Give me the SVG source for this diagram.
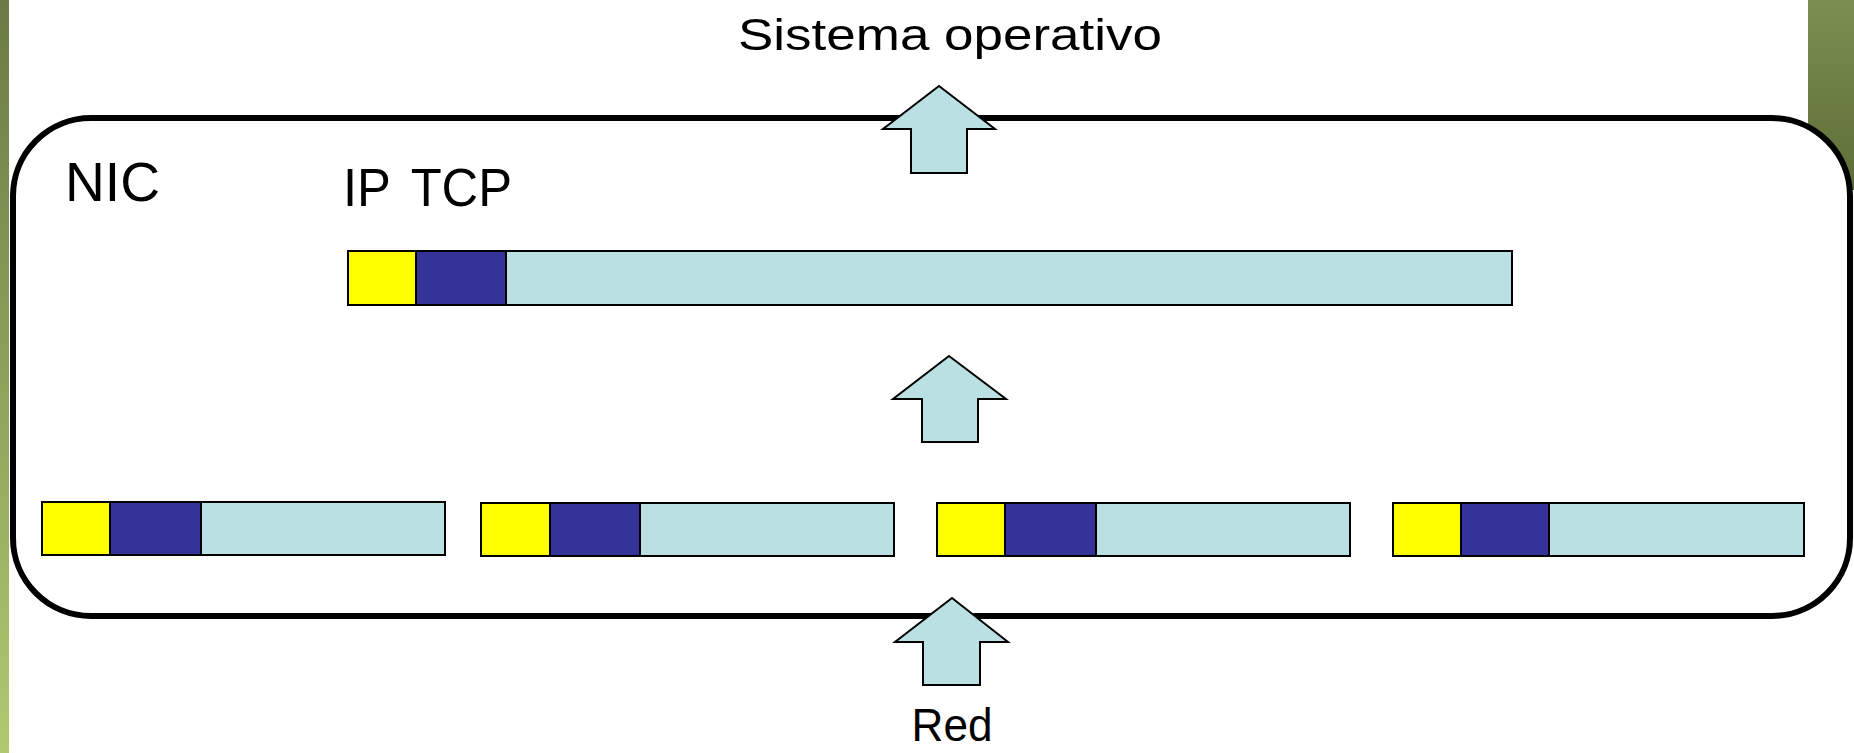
<svg xmlns="http://www.w3.org/2000/svg" width="1854" height="753" viewBox="0 0 1854 753">
  <defs>
    <linearGradient id="barLeft" x1="0" y1="0" x2="0" y2="1">
      <stop offset="0" stop-color="#6b7a45"/>
      <stop offset="1" stop-color="#b0c970"/>
    </linearGradient>
    <linearGradient id="barRight" x1="0" y1="0" x2="0" y2="1">
      <stop offset="0" stop-color="#7d8e52"/>
      <stop offset="1" stop-color="#5d6d37"/>
    </linearGradient>
    <style>
      .lbl { font-family: "Liberation Sans", Arial, sans-serif; fill: #000; }
      .seg { stroke: #000; stroke-width: 2; }
      .ip { fill: #ffff00; }
      .tcp { fill: #333399; }
      .data { fill: #bbe0e3; }
      .blk { fill: #bbe0e3; stroke: #000; stroke-width: 2; stroke-linejoin: miter; }
    </style>
  </defs>

  <rect width="1854" height="753" fill="#ffffff"/>
  <!-- side accent bars -->
  <rect x="0" y="0" width="9" height="753" fill="url(#barLeft)"/>
  <rect x="1808" y="0" width="46" height="190" fill="url(#barRight)"/>

  <text class="lbl" x="950" y="50" font-size="44" text-anchor="middle" textLength="424" lengthAdjust="spacingAndGlyphs">Sistema operativo</text>

  <!-- network interface card -->
  <g id="nic">
    <rect x="13" y="118" width="1837" height="498" rx="78" ry="78" fill="#ffffff" stroke="#000" stroke-width="6"/>
    <text class="lbl" x="65" y="201" font-size="55" textLength="95" lengthAdjust="spacingAndGlyphs">NIC</text>
    <text class="lbl" x="343" y="206" font-size="54" textLength="169" lengthAdjust="spacingAndGlyphs">IP <tspan dx="8">TCP</tspan></text>
  </g>

  <!-- reassembled segment -->
  <g id="segment">
    <rect class="seg ip" x="348" y="251" width="68" height="54"/>
    <rect class="seg tcp" x="416" y="251" width="90" height="54"/>
    <rect class="seg data" x="506" y="251" width="1006" height="54"/>
  </g>

  <!-- received fragments -->
  <g id="frag1">
    <rect class="seg ip" x="42" y="502" width="68" height="53"/>
    <rect class="seg tcp" x="110" y="502" width="91" height="53"/>
    <rect class="seg data" x="201" y="502" width="244" height="53"/>
  </g>
  <g id="frag2">
    <rect class="seg ip" x="481" y="503" width="69" height="53"/>
    <rect class="seg tcp" x="550" y="503" width="90" height="53"/>
    <rect class="seg data" x="640" y="503" width="254" height="53"/>
  </g>
  <g id="frag3">
    <rect class="seg ip" x="937" y="503" width="68" height="53"/>
    <rect class="seg tcp" x="1005" y="503" width="91" height="53"/>
    <rect class="seg data" x="1096" y="503" width="254" height="53"/>
  </g>
  <g id="frag4">
    <rect class="seg ip" x="1393" y="503" width="68" height="53"/>
    <rect class="seg tcp" x="1461" y="503" width="88" height="53"/>
    <rect class="seg data" x="1549" y="503" width="255" height="53"/>
  </g>

  <!-- upward flow arrows -->
  <g id="connectors">
    <polygon class="blk" points="939,86 995,129 967,129 967,173 911,173 911,129 883,129"/>
    <polygon class="blk" points="949,356 1006,399 978,399 978,442 922,442 922,399 893,399"/>
    <polygon class="blk" points="952,598 1008,642 980,642 980,685 923,685 923,642 895,642"/>
  </g>

  <text class="lbl" x="952" y="741" font-size="46" text-anchor="middle" textLength="81" lengthAdjust="spacingAndGlyphs">Red</text>
</svg>
